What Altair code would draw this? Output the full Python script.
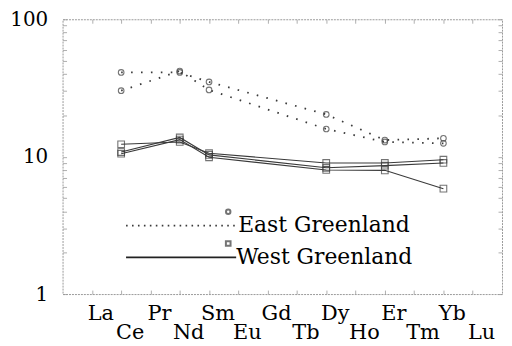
import altair as alt
import pandas as pd

# ---- data ----
elements = ["La", "Ce", "Pr", "Nd", "Sm", "Eu", "Gd", "Tb", "Dy", "Ho", "Er", "Tm", "Yb", "Lu"]
element_pos = list(range(1, 15))
sample_elements = ["Ce", "Nd", "Sm", "Dy", "Er", "Yb"]

east_1 = [41.0, 41.0, 35.0, 20.3, 13.2, 13.6]
east_2 = [30.2, 42.0, 30.6, 15.9, 12.8, 12.5]
west_1 = [12.3, 12.8, 10.6, 9.0, 9.0, 9.5]
west_2 = [10.8, 13.8, 10.3, 8.3, 8.6, 9.0]
west_3 = [10.5, 13.3, 9.9, 8.0, 7.95, 5.85]

y_tick_values = [1, 2, 3, 4, 5, 6, 7, 8, 9, 10, 20, 30, 40, 50, 60, 70, 80, 90, 100]
legend_labels = ["East Greenland", "West Greenland"]

FONT = "DejaVu Serif"
INK = "#3a3a3a"
FAINT = "#9a9a9a"

pos_of = dict(zip(elements, element_pos))
rows = []
for name, region, vals in [("E1", "East", east_1), ("E2", "East", east_2),
                           ("W1", "West", west_1), ("W2", "West", west_2), ("W3", "West", west_3)]:
    for el, v in zip(sample_elements, vals):
        rows.append({"sample": name, "region": region, "element": el, "pos": pos_of[el], "value": v})
df = pd.DataFrame(rows)
east = df[df.region == "East"]
west = df[df.region == "West"]

xscale = alt.Scale(domain=[0, 15], nice=False, zero=False)
yscale = alt.Scale(type="log", domain=[1, 100], nice=False)

ax_bottom = alt.Axis(orient="bottom", values=element_pos, labels=False, ticks=True, tickSize=4,
                     offset=-4, domain=False, grid=False, tickColor=FAINT, tickWidth=0.8, title=None)
ax_top = alt.Axis(orient="top", values=element_pos, labels=False, ticks=True, tickSize=4,
                  offset=-4, domain=False, grid=False, tickColor=FAINT, tickWidth=0.8, title=None)
ax_left = alt.Axis(orient="left", values=y_tick_values, ticks=True, tickSize=4, offset=-4,
                   domain=False, grid=False, tickColor=FAINT, tickWidth=0.8, title=None,
                   labelExpr="(datum.value == 1 || datum.value == 10 || datum.value == 100) ? format(datum.value, 'd') : ''",
                   labelFont=FONT, labelFontSize=20, labelColor="black", labelPadding=15,
                   labelOverlap=False, labelBaseline="middle")
ax_right = alt.Axis(orient="right", values=y_tick_values, labels=False, ticks=True, tickSize=4,
                    offset=-4, domain=False, grid=False, tickColor=FAINT, tickWidth=0.8, title=None)

east_lines = alt.Chart(east).mark_line(strokeDash=[1.6, 8.4], strokeWidth=1.8, color=INK).encode(
    x=alt.X("pos:Q", scale=xscale, axis=ax_bottom),
    y=alt.Y("value:Q", scale=yscale, axis=ax_left),
    detail="sample:N",
)
east_pts = alt.Chart(east).mark_point(shape="circle", filled=False, size=32, color=INK, strokeWidth=1.1).encode(
    x=alt.X("pos:Q", scale=xscale, axis=None),
    y=alt.Y("value:Q", scale=yscale, axis=None),
)
west_lines = alt.Chart(west).mark_line(strokeWidth=1.1, color=INK).encode(
    x=alt.X("pos:Q", scale=xscale, axis=ax_top),
    y=alt.Y("value:Q", scale=yscale, axis=ax_right),
    detail="sample:N",
)
west_pts = alt.Chart(west).mark_point(shape="square", filled=False, size=45, color=INK, strokeWidth=1.1).encode(
    x=alt.X("pos:Q", scale=xscale, axis=None),
    y=alt.Y("value:Q", scale=yscale, axis=None),
)

lab_df = pd.DataFrame({"element": elements, "pos": element_pos})
upper = lab_df.iloc[0::2]
lower = lab_df.iloc[1::2]
upper_txt = alt.Chart(upper).mark_text(font=FONT, fontSize=21, color="black", dx=9, baseline="alphabetic").encode(
    x=alt.X("pos:Q", scale=xscale, axis=None), y=alt.value(303), text="element:N")
lower_txt = alt.Chart(lower).mark_text(font=FONT, fontSize=21, color="black", dx=9, baseline="alphabetic").encode(
    x=alt.X("pos:Q", scale=xscale, axis=None), y=alt.value(322), text="element:N")

one = alt.Data(values=[{"a": 1}])
leg_e_line = alt.Chart(one).mark_rule(strokeDash=[1.6, 4.4], strokeWidth=1.6, color=INK).encode(
    x=alt.value(64), x2=alt.value(177), y=alt.value(208))
leg_w_line = alt.Chart(one).mark_rule(strokeWidth=1.6, color="#222").encode(
    x=alt.value(64), x2=alt.value(175), y=alt.value(240))
leg_e_pt = alt.Chart(one).mark_point(shape="circle", filled=False, size=20, color=INK).encode(
    x=alt.value(167), y=alt.value(194))
leg_w_pt = alt.Chart(one).mark_point(shape="square", filled=False, size=22, color=INK).encode(
    x=alt.value(167), y=alt.value(226))
leg_e_txt = alt.Chart(one).mark_text(font=FONT, fontSize=22, color="black", align="left", baseline="alphabetic",
                                     text=legend_labels[0]).encode(x=alt.value(177), y=alt.value(214))
leg_w_txt = alt.Chart(one).mark_text(font=FONT, fontSize=22, color="black", align="left", baseline="alphabetic",
                                     text=legend_labels[1]).encode(x=alt.value(175), y=alt.value(247))

chart = alt.layer(
    east_lines, west_lines, east_pts, west_pts, upper_txt, lower_txt,
    leg_e_line, leg_w_line, leg_e_pt, leg_w_pt, leg_e_txt, leg_w_txt,
).properties(
    width=443, height=277,
    autosize=alt.AutoSizeParams(type="none"),
    padding={"left": 55, "top": 10, "right": 2, "bottom": 50},
    background="white",
).configure_view(stroke=FAINT, strokeWidth=1, strokeDash=[2, 1])

chart.save("out.html", embed_options={"renderer": "svg", "actions": False})
